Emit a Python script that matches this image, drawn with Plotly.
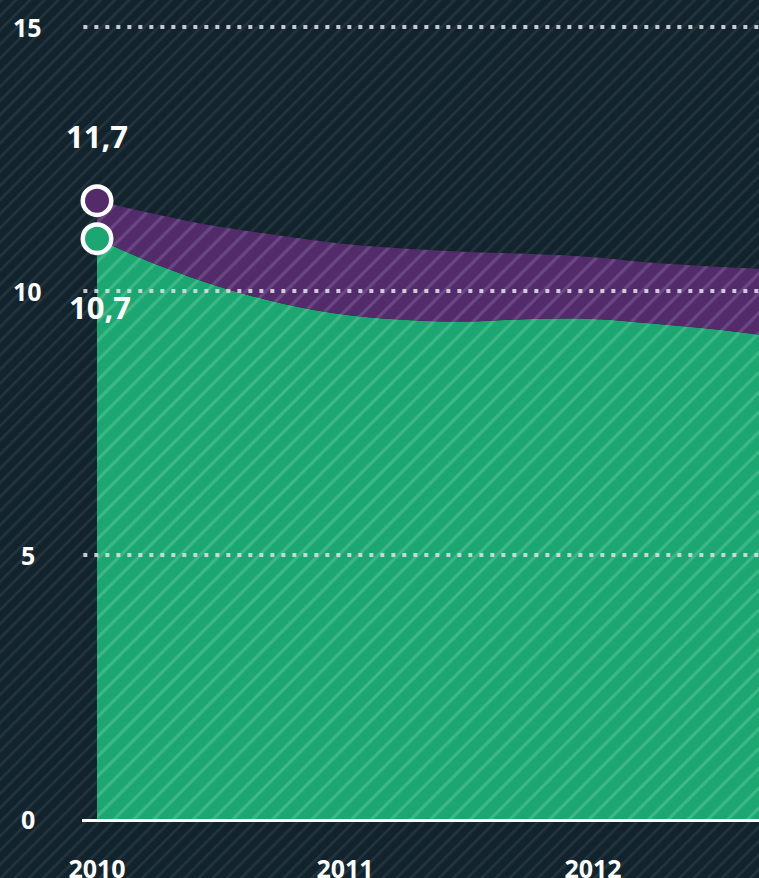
import base64
from plotly import graph_objs as go

# quarterly readings (x in fractional years)
periods = [2010.0, 2010.25, 2010.5, 2010.75, 2011.0, 2011.25, 2011.5, 2011.75,
           2012.0, 2012.25, 2012.5, 2012.75]
green_values = [10.99, 10.48, 10.07, 9.76, 9.55, 9.45, 9.42, 9.47, 9.47, 9.38, 9.27, 9.12]
purple_values = [11.71, 11.44, 11.21, 11.04, 10.89, 10.80, 10.74, 10.70, 10.64, 10.53, 10.46, 10.40]
point_labels = ['11,7', '10,7']

year_ticks = [2010, 2011, 2012]
year_labels = ['2010', '2011', '2012']
y_ticks = [0, 5, 10, 15]
y_labels = ['0', '5', '10', '15']

BG = '#12232c'
BG_STRIPE = '#22343d'
GREEN = '#1ba672'
GREEN_STRIPE = '#3cb987'
PURPLE = '#532a6a'
PURPLE_STRIPE = '#6a4884'
FONT = 'Open Sans'

W, H = 759, 878

# striped page background as an svg image
svg = f'''<svg xmlns="http://www.w3.org/2000/svg" width="{W}" height="{H}">
<defs><pattern id="p" width="10" height="10" patternUnits="userSpaceOnUse" patternTransform="rotate(45)">
<rect width="10" height="10" fill="{BG}"/><rect x="0" y="0" width="2.6" height="10" fill="{BG_STRIPE}"/>
</pattern></defs><rect width="{W}" height="{H}" fill="url(#p)"/></svg>'''
bg_src = 'data:image/svg+xml;base64,' + base64.b64encode(svg.encode()).decode()

fig = go.Figure()

fig.add_trace(go.Scatter(
    x=periods, y=green_values, mode='lines', line=dict(width=0, shape='spline', smoothing=1),
    fill='tozeroy', fillcolor=GREEN,
    fillpattern=dict(shape='/', size=14, solidity=0.22, fillmode='overlay', bgcolor=GREEN,
                     fgcolor=GREEN_STRIPE, fgopacity=1),
    hoverinfo='skip', showlegend=False))

fig.add_trace(go.Scatter(
    x=periods, y=purple_values, mode='lines', line=dict(width=0, shape='spline', smoothing=1),
    fill='tonexty', fillcolor=PURPLE,
    fillpattern=dict(shape='/', size=14, solidity=0.22, fillmode='overlay', bgcolor=PURPLE,
                     fgcolor=PURPLE_STRIPE, fgopacity=1),
    hoverinfo='skip', showlegend=False))

# first-point markers
for vals, col in [(purple_values, PURPLE), (green_values, GREEN)]:
    fig.add_trace(go.Scatter(
        x=[periods[0]], y=[vals[0]], mode='markers', cliponaxis=False,
        marker=dict(size=28.5, color=col, line=dict(color='white', width=4.5)),
        hoverinfo='skip', showlegend=False))

annotations = [
    dict(x=periods[0], y=purple_values[0], text=f'<b>{point_labels[0]}</b>', showarrow=False,
         yshift=65, font=dict(family=FONT, size=31, color='white')),
    dict(x=periods[0], y=green_values[0], text=f'<b>{point_labels[1]}</b>', showarrow=False,
         yshift=-68, xshift=3, font=dict(family=FONT, size=31, color='white')),
]
# y tick labels, centred in the left margin
for v, t in zip(y_ticks, y_labels):
    annotations.append(dict(x=27.5 / W, xref='paper', y=v, yref='y', text=f'<b>{t}</b>',
                            showarrow=False, xanchor='center', yanchor='middle',
                            font=dict(family=FONT, size=25, color='white')))

# dotted gridlines drawn over the areas
shapes = [dict(type='line', xref='x domain', x0=0.002, x1=1, yref='y', y0=v, y1=v, layer='above',
               line=dict(color='rgba(220,220,228,0.9)', width=4, dash='4px,7px'))
          for v in y_ticks if v > 0]

fig.update_layout(
    width=W, height=H,
    margin=dict(l=0, r=0, t=0, b=0, autoexpand=False),
    paper_bgcolor=BG,
    plot_bgcolor='rgba(0,0,0,0)',
    images=[dict(source=bg_src, xref='paper', yref='paper', x=0, y=1, sizex=1, sizey=1,
                 xanchor='left', yanchor='top', sizing='stretch', layer='below')],
    xaxis=dict(domain=[82 / W, 1], range=[2009.9395, 2012.669], showgrid=False, zeroline=False,
               showline=True, linecolor='white', linewidth=3, layer='above traces',
               tickvals=year_ticks, ticktext=[f'<b>{t}</b>' for t in year_labels], ticks='',
               ticklabelstandoff=26, tickfont=dict(family=FONT, size=25, color='white')),
    yaxis=dict(domain=[59 / H, 1], range=[0, 15.51], showgrid=False, zeroline=False,
               showline=False, showticklabels=False),
    annotations=annotations,
    shapes=shapes,
    showlegend=False,
    hovermode=False,
)

fig.write_html('out.html', config={'displayModeBar': False},
               post_script="document.body.style.margin='0';")
